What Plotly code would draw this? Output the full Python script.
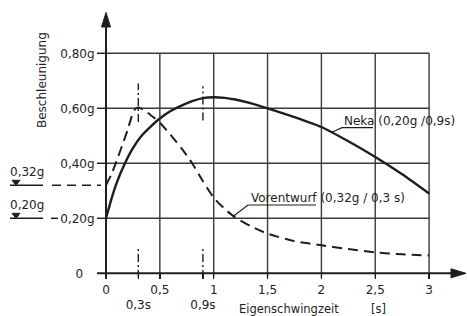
import plotly.graph_objects as go

# ---------------- data ----------------
neka_t = [0, 0.05, 0.1, 0.176, 0.25, 0.33, 0.4, 0.5, 0.6, 0.7, 0.8, 0.9, 1.0,
          1.1, 1.2, 1.35, 1.5, 1.75, 2.0, 2.25, 2.5, 2.75, 3.0]
neka_a = [0.20, 0.27, 0.33, 0.40, 0.455, 0.50, 0.528, 0.563, 0.59, 0.61, 0.626,
          0.637, 0.64, 0.638, 0.632, 0.618, 0.60, 0.568, 0.532, 0.48, 0.423, 0.36, 0.29]

vor_t = [0, 0.05, 0.1, 0.15, 0.2, 0.24, 0.27, 0.3, 0.35, 0.4, 0.5, 0.6, 0.7, 0.8,
         0.9, 1.0, 1.1, 1.2, 1.35, 1.5, 1.75, 2.0, 2.25, 2.5, 2.75, 3.0]
vor_a = [0.32, 0.36, 0.41, 0.465, 0.52, 0.572, 0.597, 0.603, 0.595, 0.58, 0.548,
         0.503, 0.455, 0.40, 0.335, 0.275, 0.235, 0.203, 0.17, 0.144, 0.117, 0.102,
         0.088, 0.076, 0.069, 0.065]

x_ticks = [0, 0.3, 0.5, 0.9, 1, 1.5, 2, 2.5, 3]
x_ticktext = ["0", "<br>0,3s", "0,5", "<br>0,9s", "1", "1,5", "2", "2,5", "3"]
y_ticks = [0, 0.2, 0.4, 0.6, 0.8]
y_ticktext = ["0&nbsp;&nbsp;&nbsp;", "0,20g", "0,40g", "0,60g", "0,80g"]
x_grid = [0.5, 1, 1.5, 2, 2.5, 3]
y_grid = [0.2, 0.4, 0.6, 0.8]
markers_t = [0.3, 0.9]
marker_top = [(0.55, 0.69), (0.556, 0.68)]
vor_ref, neka_ref = 0.32, 0.20

# ---------------- geometry ----------------
W, H = 467, 316
X0PX, XS = 106, 107.7
Y0PX, YS = 273.3, 275.0
def dx(px): return (px - X0PX) / XS
def dy(py): return (Y0PX - py) / YS
def px2(p): return p / XS
def py2(p): return p / YS

xr = [dx(0), dx(W)]
yr = [dy(H), dy(0)]

INK = "#1e1e1e"
GRID = "#3a3a3a"
FONT = "DejaVu Sans"

fig = go.Figure()
fig.add_trace(go.Scatter(x=neka_t, y=neka_a, mode="lines",
                         line=dict(color=INK, width=2.4, shape="spline", smoothing=0.6),
                         hoverinfo="skip", showlegend=False))
fig.add_trace(go.Scatter(x=vor_t, y=vor_a, mode="lines",
                         line=dict(color=INK, width=2.0, dash="10px,6px", shape="spline", smoothing=0.6),
                         hoverinfo="skip", showlegend=False))

shapes = []
# grid
for gx in x_grid:
    shapes.append(dict(type="line", x0=gx, x1=gx, y0=dy(278), y1=0.8,
                       line=dict(color=GRID, width=1.4), layer="below"))
for gy in y_grid:
    shapes.append(dict(type="line", x0=dx(97), x1=3, y0=gy, y1=gy,
                       line=dict(color=GRID, width=1.4), layer="below"))
# axes
shapes.append(dict(type="line", x0=dx(97), x1=dx(453), y0=0, y1=0, line=dict(color=INK, width=2)))
shapes.append(dict(type="line", x0=0, x1=0, y0=dy(278), y1=dy(26), line=dict(color=INK, width=2)))
# arrow heads
ax_tip, ax_base = dx(466), dx(451)
shapes.append(dict(type="path",
                   path=f"M {ax_tip} 0 L {ax_base} {py2(4.5)} L {ax_base} {-py2(4.5)} Z",
                   fillcolor=INK, line=dict(color=INK, width=1)))
ay_tip, ay_base = dy(12.5), dy(27)
shapes.append(dict(type="path",
                   path=f"M 0 {ay_tip} L {px2(4.5)} {ay_base} L {-px2(4.5)} {ay_base} Z",
                   fillcolor=INK, line=dict(color=INK, width=1)))
# dash-dot period markers
for t, (lo, hi) in zip(markers_t, marker_top):
    shapes.append(dict(type="line", x0=t, x1=t, y0=lo, y1=hi,
                       line=dict(color=INK, width=1.4, dash="8px,3px,2px,3px")))
    shapes.append(dict(type="line", x0=t, x1=t, y0=dy(278), y1=0.09,
                       line=dict(color=INK, width=1.4, dash="8px,3px,2px,3px")))
# left reference marks (0,32g and 0,20g)
for val, dash_from, dash_to in [(vor_ref, 52, 101), (neka_ref, 51, 58)]:
    shapes.append(dict(type="line", x0=dx(10), x1=dx(43), y0=val, y1=val,
                       line=dict(color=INK, width=1.5)))
    shapes.append(dict(type="path",
                       path=f"M {dx(16)} {val} L {dx(12)} {val + py2(5)} L {dx(20)} {val + py2(5)} Z",
                       fillcolor=INK, line=dict(color=INK, width=1)))
    shapes.append(dict(type="line", x0=dx(dash_from), x1=dx(dash_to), y0=val, y1=val,
                       line=dict(color=INK, width=1.5,
                                 dash="9px,6px" if val == vor_ref else "solid")))
# label underlines and leaders
shapes.append(dict(type="path",
                   path=f"M {dx(373)} {dy(127.7)} L {dx(342)} {dy(127.7)} L {dx(331.5)} {dy(132.5)}",
                   line=dict(color=INK, width=1.2)))
shapes.append(dict(type="path",
                   path=f"M {dx(316)} {dy(205)} L {dx(248)} {dy(205)} L {dx(233)} {dy(216.5)}",
                   line=dict(color=INK, width=1.2)))

ann = []
def add_text(text, px, py, size=12, xanchor="center", angle=0):
    ann.append(dict(text=text, x=dx(px), y=dy(py), xref="x", yref="y",
                    showarrow=False, xanchor=xanchor, yanchor="middle",
                    textangle=angle, font=dict(family=FONT, size=size, color=INK)))

add_text("0,32g", 27, 172)
add_text("0,20g", 27, 205)
add_text("Beschleunigung", 42, 80, size=12, angle=-90)
add_text("Eigenschwingzeit", 288.5, 309, size=11.5)
add_text("[s]", 378.5, 309, size=11.5)
add_text("Neka (0,20g /0,9s)", 342, 121, xanchor="left")
add_text("Vorentwurf (0,32g / 0,3 s)", 249, 198, xanchor="left")

fig.update_layout(
    width=W, height=H, margin=dict(l=0, r=0, t=0, b=0),
    paper_bgcolor="white", plot_bgcolor="white",
    shapes=shapes, annotations=ann, showlegend=False,
    font=dict(family=FONT, color=INK, size=12),
    xaxis=dict(range=xr, showgrid=False, zeroline=False, showline=False,
               tickmode="array", tickvals=x_ticks, ticktext=x_ticktext,
               ticks="outside", ticklen=5, tickwidth=1.5, tickcolor=INK,
               tickangle=0,
               anchor="free", position=(0 - yr[0]) / (yr[1] - yr[0]),
               automargin=False, fixedrange=True,
               tickfont=dict(family=FONT, size=12, color=INK)),
    yaxis=dict(range=yr, showgrid=False, zeroline=False, showline=False,
               tickmode="array", tickvals=y_ticks, ticktext=y_ticktext,
               ticks="outside", ticklen=9, tickwidth=1.5, tickcolor=INK,
               tickangle=0,
               anchor="free", position=(0 - xr[0]) / (xr[1] - xr[0]),
               automargin=False, fixedrange=True,
               tickfont=dict(family=FONT, size=12, color=INK)),
)
fig.write_html("out.html", config={"staticPlot": True},
               post_script="document.body.style.margin='0';document.body.style.overflow='hidden';")
